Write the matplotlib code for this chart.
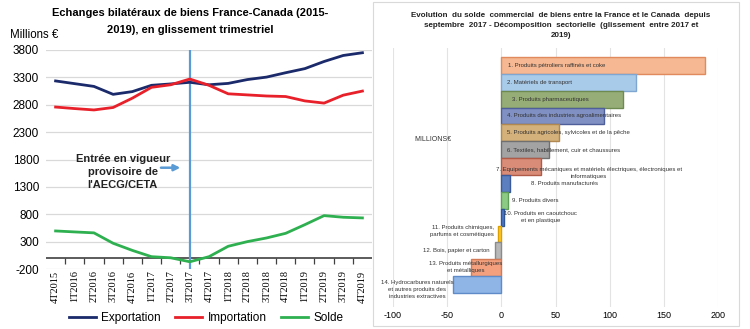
import matplotlib
matplotlib.use("Agg")
import matplotlib.pyplot as plt
from matplotlib.patches import Rectangle

plt.rcParams["axes.unicode_minus"] = False

# ---- Left panel: quarterly bilateral trade ----
quarters = ["4T2015", "1T2016", "2T2016", "3T2016", "4T2016", "1T2017", "2T2017",
            "3T2017", "4T2017", "1T2018", "2T2018", "3T2018", "4T2018", "1T2019",
            "2T2019", "3T2019", "4T2019"]
exportation = [3235, 3185, 3135, 2990, 3040, 3155, 3180, 3210, 3165, 3190,
               3260, 3305, 3385, 3460, 3590, 3700, 3750]
importation = [2758, 2730, 2705, 2750, 2920, 3118, 3165, 3270, 3155, 3000,
               2980, 2960, 2950, 2870, 2830, 2975, 3050]
solde = [495, 477, 460, 270, 140, 25, 5, -68, 25, 215,
         300, 367, 452, 610, 775, 745, 733]
ceta_quarter = "3T2017"

# ---- Right panel: sector breakdown ----
sectors = [
    "1. Produits pétroliers raffinés et coke",
    "2. Matériels de transport",
    "3. Produits pharmaceutiques",
    "4. Produits des industries agroalimentaires",
    "5. Produits agricoles, sylvicoles et de la pêche",
    "6. Textiles, habillement, cuir et chaussures",
    "7. Equipements mécaniques et matériels électriques, électroniques et\ninformatiques",
    "8. Produits manufacturés",
    "9. Produits divers",
    "10. Produits en caoutchouc\net en plastique",
    "11. Produits chimiques,\nparfums et cosmétiques",
    "12. Bois, papier et carton",
    "13. Produits métallurgiques\net métalliques",
    "14. Hydrocarbures naturels\net autres produits des\nindustries extractives",
]
sector_values = [188, 124, 112, 95, 53, 44, 37, 8, 6.5, 2, -3.5, -6, -28, -44.5]

fills = ["#F5B892", "#A9CBEA", "#97AD77", "#8090C2", "#D4B07A", "#A3A3A3", "#D98C78",
         "#5B7FBF", "#8CCB84", "#4E79C5", "#FFC830", "#B8B8B8", "#F4A07E", "#8FB5E6"]
edges = ["#E08A5E", "#7EA6D0", "#6E8A50", "#4F5F9A", "#B08850", "#707070", "#B05A48",
         "#3A5A9A", "#5E9E58", "#2F5597", "#D9A000", "#8A8A8A", "#D27A55", "#5F8CC8"]
# label anchor (x in data units, y offset in bar units, alignment)
label_layout = [(6.5, 0, "left"), (5.5, 0, "left"), (10, 0, "left"), (5.5, 0, "left"),
                (5.5, 0, "left"), (5.5, 0, "left"), (81, 0.4, "center"),
                (27.7, 0, "left"), (10, 0, "left"), (36, 0, "center"),
                (-6.5, -0.15, "right"), (-11, 0, "right"), (-33, -0.05, "center"),
                (-77.5, 0.3, "center")]

W, H = 750, 329
fig = plt.figure(figsize=(W / 100, H / 100), dpi=100)

sans = ["Liberation Sans", "DejaVu Sans"]
serif = ["Liberation Serif", "DejaVu Serif"]

# ------------------------------------------------------------------ left
ax1 = fig.add_axes([46 / W, 1 - 269 / H, 326 / W, 219 / H])
x = list(range(len(quarters)))
ax1.set_xlim(-0.5, len(quarters) - 0.5)
ax1.set_ylim(-200, 3800)
ax1.set_yticks(range(-200, 3801, 500))
ax1.yaxis.grid(True, color="#D9D9D9", lw=0.9)
ax1.set_axisbelow(True)
for s in ax1.spines.values():
    s.set_visible(False)
ax1.tick_params(axis="y", length=0, pad=5, labelsize=8.5)
for t in ax1.get_yticklabels():
    t.set_fontfamily(sans)
ax1.set_xticks(x)
ax1.set_xticklabels(quarters, rotation=90, fontsize=7.5, family=serif)
ax1.tick_params(axis="x", length=0, pad=1)

ax1.axhline(0, color="#404040", lw=1.2, zorder=2)
ax1.vlines([i + 0.5 for i in x[:-1]], -110, 0, color="#404040", lw=0.9, zorder=2)

ax1.plot(x, exportation, color="#1B2A6B", lw=2, label="Exportation", zorder=4)
ax1.plot(x, importation, color="#E8202A", lw=2, label="Importation", zorder=4)
ax1.plot(x, solde, color="#2FB050", lw=2, label="Solde", zorder=4)

xc = quarters.index(ceta_quarter)
ax1.plot([xc, xc], [-200, 3800], color="#5B9BD5", lw=1.6, zorder=3)
ax1.annotate("", xy=(xc - 0.35, 1650), xytext=(xc - 1.65, 1650),
             arrowprops=dict(arrowstyle="-|>", color="#5B9BD5", lw=1.8,
                             mutation_scale=9))
ax1.text(xc - 3.5, 1575, "Entrée en vigueur\nprovisoire de\nl'AECG/CETA",
         ha="center", va="center", fontsize=8, fontweight="bold",
         family=sans, linespacing=1.4, color="#222222")

fig.text(190 / W, 1 - 13 / H, "Echanges bilatéraux de biens France-Canada (2015-",
         ha="center", va="center", fontsize=8, fontweight="bold", family=sans)
fig.text(190 / W, 1 - 30 / H, "2019), en glissement trimestriel",
         ha="center", va="center", fontsize=8, fontweight="bold", family=sans)
fig.text(10 / W, 1 - 35 / H, "Millions €", ha="left", va="center",
         fontsize=8.3, family=sans)

fig.legend(loc="center", bbox_to_anchor=(206 / W, 1 - 318 / H), ncol=3,
           frameon=False, handlelength=2.3, columnspacing=1.2,
           handletextpad=0.45, prop={"family": sans, "size": 8.5})

# ------------------------------------------------------------------ right
fig.add_artist(Rectangle((373 / W, 3 / H), 366 / W, 324 / H,
                         transform=fig.transFigure, fill=False,
                         edgecolor="#D9D9D9", lw=0.8))

ax2 = fig.add_axes([393 / W, 1 - 307 / H, 325 / W, 259 / H])
pos = list(range(len(sectors)))
ax2.barh(pos, sector_values, height=1.0, color=fills, edgecolor=edges,
         linewidth=1.0, zorder=3)
ax2.set_xlim(-100, 200)
ax2.set_ylim(14.33, -1.03)
ax2.set_xticks(range(-100, 201, 50))
ax2.set_yticks([])
ax2.xaxis.grid(True, color="#E3E3E3", lw=0.8)
ax2.set_axisbelow(True)
for s in ax2.spines.values():
    s.set_visible(False)
ax2.tick_params(axis="x", length=0, pad=3, labelsize=6.5)
for t in ax2.get_xticklabels():
    t.set_fontfamily(sans)

for i, (name, (lx, dy, ha)) in enumerate(zip(sectors, label_layout)):
    ax2.text(lx, i + dy, name, ha=ha, va="center", fontsize=4.3,
             family=sans, color="#333333", linespacing=1.5, zorder=5)

ax2.text(-80.5, 4.4, "MILLIONS€", ha="left", va="center", fontsize=5,
         family=sans, color="#333333")

fig.text(561 / W, 1 - 25.5 / H,
         "Evolution  du solde  commercial  de biens entre la France et le Canada  depuis\n"
         "septembre  2017 - Décomposition  sectorielle  (glissement  entre 2017 et\n2019)",
         ha="center", va="center", fontsize=5.8, fontweight="bold",
         family=sans, linespacing=1.65, color="#222222")

fig.savefig("out.png", dpi=100)
